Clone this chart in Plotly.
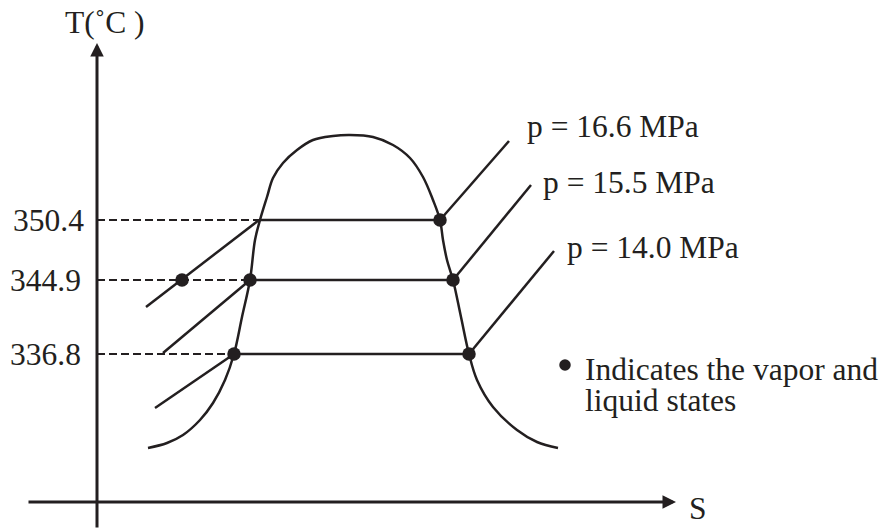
import plotly.graph_objects as go

# ---------------- data (schematic S-T coordinates) ----------------
T_labels = ["350.4", "344.9", "336.8"]
T_levels = [282, 222, 148]

# saturation dome (schematic)
dome_s = [51, 70, 86, 103, 116, 128, 137, 145, 153, 158, 163, 170, 176, 186, 200, 216, 236, 253,
          276, 296, 313, 326, 336, 343, 346, 350, 356, 364, 372, 380, 396, 420, 440, 461]
dome_T = [54, 59, 67, 82, 99, 122, 148, 185, 222, 262, 282, 305, 324, 339, 352, 362, 366, 367,
          365, 357, 344, 325, 302, 282, 262, 242, 222, 185, 148, 122, 95, 72, 60, 54]

# saturated liquid / vapour entropy at each level
s_liquid = [162, 153, 137]
s_vapor = [343, 356, 372]

# isobars
p_labels = ["p = 16.6 MPa", "p = 15.5 MPa", "p = 14.0 MPa"]
sup_end_s = [412, 434, 457]
sup_end_T = [361, 317, 251]
sub_end_s = [49, 66, 58]
sub_end_T = [195, 149, 94]

# marked states
dot_s = [343, 356, 372, 153, 137, 85]
dot_T = [282, 222, 148, 222, 148, 222]

# ---------------- styling ----------------
INK = "#231f20"
FONT = dict(family="Liberation Serif, Times New Roman, serif", size=31.5, color=INK)

fig = go.Figure()

# dome
fig.add_trace(go.Scatter(x=dome_s, y=dome_T, mode="lines",
                         line=dict(color=INK, width=2.5, shape="spline", smoothing=1),
                         hoverinfo="skip", showlegend=False))

# dashed projections and solid tie lines
for i, T in enumerate(T_levels):
    fig.add_trace(go.Scatter(x=[0, s_liquid[i]], y=[T, T], mode="lines",
                             line=dict(color=INK, width=2, dash="8px,4px"),
                             hoverinfo="skip", showlegend=False))
    fig.add_trace(go.Scatter(x=[s_liquid[i], s_vapor[i]], y=[T, T], mode="lines",
                             line=dict(color=INK, width=2.5),
                             hoverinfo="skip", showlegend=False))
    # superheated branch
    fig.add_trace(go.Scatter(x=[s_vapor[i], sup_end_s[i]], y=[T, sup_end_T[i]], mode="lines",
                             line=dict(color=INK, width=2.5),
                             hoverinfo="skip", showlegend=False))
    # compressed-liquid branch
    fig.add_trace(go.Scatter(x=[s_liquid[i], sub_end_s[i]], y=[T, sub_end_T[i]], mode="lines",
                             line=dict(color=INK, width=2.5),
                             hoverinfo="skip", showlegend=False))

# state dots
fig.add_trace(go.Scatter(x=dot_s, y=dot_T, mode="markers",
                         marker=dict(color=INK, size=13.5),
                         hoverinfo="skip", showlegend=False))

# legend dot
fig.add_trace(go.Scatter(x=[468], y=[137], mode="markers",
                         marker=dict(color=INK, size=11.5),
                         hoverinfo="skip", showlegend=False))

# axes arrows
fig.add_annotation(x=0, y=459, ax=0, ay=-27, xref="x", yref="y", axref="x", ayref="y",
                   text="", showarrow=True, arrowhead=2, arrowsize=0.9, arrowwidth=3,
                   arrowcolor=INK)
fig.add_annotation(x=579, y=0, ax=-70, ay=0, xref="x", yref="y", axref="x", ayref="y",
                   text="", showarrow=True, arrowhead=2, arrowsize=0.9, arrowwidth=3,
                   arrowcolor=INK)

# axis titles
fig.add_annotation(x=8, y=480, text="T(˚C )", showarrow=False, font=FONT,
                   xanchor="center", yanchor="middle")
fig.add_annotation(x=601, y=-6, text="S", showarrow=False, font=FONT,
                   xanchor="center", yanchor="middle")

# temperature labels
label_x = [-49, -52, -52]
for i, lab in enumerate(T_labels):
    fig.add_annotation(x=label_x[i], y=T_levels[i], text=lab, showarrow=False, font=FONT,
                       xanchor="center", yanchor="middle")

# pressure labels
p_label_x = [428, 444, 468]
p_label_y = [376, 320, 255]
for i, lab in enumerate(p_labels):
    fig.add_annotation(x=p_label_x[i], y=p_label_y[i], text=lab, showarrow=False, font=FONT,
                       xanchor="left", yanchor="middle")

# legend text
fig.add_annotation(x=486, y=133, text="Indicates the vapor and", showarrow=False, font=FONT,
                   xanchor="left", yanchor="middle")
fig.add_annotation(x=486, y=102, text="liquid states", showarrow=False, font=FONT,
                   xanchor="left", yanchor="middle")

fig.update_layout(
    width=886, height=529,
    margin=dict(l=0, r=0, t=0, b=0),
    paper_bgcolor="white", plot_bgcolor="white",
    xaxis=dict(range=[-97, 789], visible=False, fixedrange=True),
    yaxis=dict(range=[-27, 502], visible=False, fixedrange=True),
    showlegend=False,
)

fig.write_html("out.html", config={"displayModeBar": False},
               post_script="document.body.style.margin='0';document.body.style.overflow='hidden';")
